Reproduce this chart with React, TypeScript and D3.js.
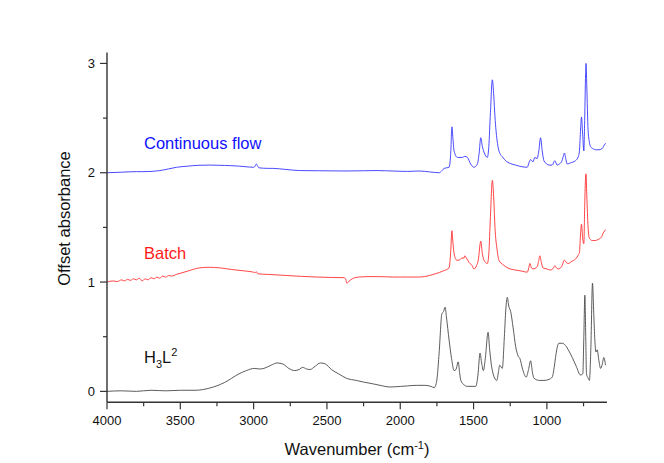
import React from "react";
import * as d3 from "d3";

// wavenumber grid points (cm-1) and absorbance readings for each spectrum
const h3l2Wn = [4000,3900,3800,3700,3600,3500,3400,3300,3200,3100,3050,2995,2960,2930,2880,2840,2800,2760,2720,2690,2665,2640,2615,2580,2545,2510,2470,2420,2367,2300,2250,2190,2120,2075,2000,1950,1891,1830,1790,1769,1755,1748,1735,1716,1705,1694,1685,1667,1650,1633,1620,1605,1595,1587,1565,1544,1485,1470,1456,1445,1433,1420,1401,1390,1372,1342,1330,1322,1304,1290,1280,1270,1260,1247,1230,1213,1195,1184,1165,1141,1125,1111,1098,1088,1050,1020,985,964,950,941,930,918,895,873,850,827,800,771,755,748,741,735,730,718,710,700,689,680,673,665,657,645,634,622,612,600];
const h3l2Abs = [0,0.005,0,0.01,0.005,0.01,0.01,0.03,0.08,0.16,0.19,0.21,0.205,0.21,0.24,0.26,0.25,0.21,0.19,0.2,0.22,0.205,0.2,0.23,0.26,0.25,0.2,0.16,0.12,0.1,0.085,0.07,0.05,0.04,0.045,0.05,0.055,0.055,0.045,0.034,0.07,0.13,0.35,0.71,0.73,0.77,0.68,0.47,0.3,0.19,0.2,0.27,0.17,0.1,0.06,0.046,0.046,0.15,0.35,0.26,0.19,0.3,0.54,0.38,0.19,0.1,0.18,0.24,0.21,0.5,0.75,0.86,0.78,0.73,0.58,0.41,0.32,0.3,0.2,0.13,0.2,0.28,0.17,0.12,0.1,0.1,0.11,0.13,0.22,0.31,0.4,0.44,0.44,0.42,0.37,0.31,0.23,0.15,0.16,0.5,0.88,0.5,0.16,0.12,0.1,0.4,0.99,0.7,0.47,0.36,0.38,0.28,0.21,0.25,0.31,0.24];

const batchWn = [4000,3960,3930,3900,3880,3860,3840,3820,3800,3780,3760,3740,3720,3700,3680,3660,3640,3620,3600,3580,3560,3526,3450,3367,3300,3231,3150,3050,3000,2990,2982,2970,2900,2777,2673,2573,2470,2381,2370,2365,2355,2342,2310,2279,2200,2165,2100,2054,1950,1871,1800,1757,1710,1667,1655,1648,1640,1633,1615,1599,1580,1565,1560,1549,1531,1510,1497,1480,1468,1451,1440,1429,1406,1396,1385,1372,1362,1354,1340,1327,1300,1281,1250,1213,1170,1134,1125,1116,1105,1095,1066,1058,1048,1038,1027,1000,975,955,946,935,923,900,880,868,855,830,805,785,778,770,764,756,748,742,736,733,728,719,710,690,669,650,628,615,600];
const batchAbs = [0,0.01,0.005,0.02,0.01,0.025,0.015,0.03,0.02,0.035,0.01,0.03,0.02,0.04,0.03,0.045,0.035,0.055,0.045,0.06,0.055,0.07,0.1,0.13,0.135,0.13,0.115,0.1,0.09,0.085,0.095,0.075,0.07,0.06,0.052,0.046,0.042,0.04,0.02,-0.01,0,0.016,0.04,0.046,0.05,0.05,0.048,0.046,0.046,0.046,0.06,0.077,0.1,0.13,0.3,0.47,0.35,0.26,0.2,0.2,0.22,0.22,0.24,0.22,0.18,0.15,0.12,0.15,0.2,0.375,0.26,0.2,0.17,0.26,0.6,0.93,0.75,0.5,0.3,0.2,0.16,0.14,0.12,0.11,0.1,0.09,0.12,0.17,0.13,0.12,0.14,0.18,0.24,0.18,0.13,0.12,0.11,0.13,0.15,0.13,0.12,0.14,0.2,0.18,0.17,0.19,0.21,0.25,0.27,0.45,0.53,0.4,0.35,0.7,0.96,0.99,0.8,0.5,0.4,0.38,0.38,0.39,0.41,0.45,0.48];

const flowWn = [4000,3900,3800,3755,3700,3639,3580,3526,3450,3380,3299,3200,3095,3030,3000,2990,2982,2972,2964,2900,2869,2780,2687,2550,2370,2250,2165,2100,2054,1950,1871,1800,1735,1715,1701,1667,1655,1648,1640,1633,1610,1576,1560,1542,1520,1497,1474,1462,1451,1440,1429,1406,1396,1385,1372,1362,1354,1340,1327,1300,1281,1250,1213,1170,1134,1120,1111,1095,1082,1066,1055,1043,1032,1020,1000,986,964,946,930,915,900,888,880,870,862,840,805,785,778,770,764,756,748,742,736,733,728,719,710,703,685,669,645,624,610,600];
const flowAbs = [0,0.005,0.01,0.01,0.012,0.02,0.035,0.05,0.06,0.068,0.07,0.067,0.06,0.052,0.05,0.06,0.08,0.06,0.045,0.04,0.04,0.03,0.02,0.018,0.016,0.018,0.02,0.018,0.016,0.012,0.016,0.008,0,0.02,0.04,0.05,0.2,0.42,0.3,0.2,0.14,0.14,0.15,0.14,0.08,0.05,0.08,0.18,0.32,0.24,0.19,0.14,0.24,0.55,0.85,0.7,0.51,0.3,0.2,0.14,0.11,0.085,0.07,0.055,0.05,0.1,0.12,0.1,0.14,0.13,0.2,0.32,0.2,0.11,0.08,0.07,0.07,0.11,0.07,0.08,0.1,0.15,0.18,0.12,0.08,0.09,0.11,0.15,0.2,0.4,0.51,0.35,0.2,0.5,0.9,1.0,0.8,0.39,0.28,0.24,0.22,0.21,0.21,0.22,0.25,0.27];

const seriesNames = ["H3L2", "Batch", "Continuous flow"];
const seriesOffsets = [0, 1, 2];

const xMajorTicks = [4000, 3500, 3000, 2500, 2000, 1500, 1000];
const xMinorTicks = [3750, 3250, 2750, 2250, 1750, 1250, 750];
const yMajorTicks = [0, 1, 2, 3];
const yMinorTicks = [0.5, 1.5, 2.5];

const FONT = "'Liberation Sans', Arial, Helvetica, sans-serif";

export default function App() {
  const W = 664, H = 463;
  const x = d3.scaleLinear().domain([4000, 590]).range([107, 607]);
  const y = d3.scaleLinear().domain([-0.1, 3.1]).range([402.3, 52.5]);

  const mk = (wn: number[], ab: number[], off: number) =>
    wn.map((w, i) => [w, ab[i] + off] as [number, number]);

  const line = d3
    .line<[number, number]>()
    .x((d) => x(d[0]))
    .y((d) => y(d[1]))
    .curve(d3.curveMonotoneX);

  const series = [
    { pts: mk(h3l2Wn, h3l2Abs, seriesOffsets[0]), color: "#4a4a4a" },
    { pts: mk(batchWn, batchAbs, seriesOffsets[1]), color: "#ff3030" },
    { pts: mk(flowWn, flowAbs, seriesOffsets[2]), color: "#3535ff" },
  ];

  const axisColor = "#333";
  const x0 = x.range()[0];
  const yBottom = y.range()[0];

  return (
    <svg
      width={W}
      height={H}
      style={{ position: "absolute", left: 0, top: 0, background: "#fff" }}
      fontFamily={FONT}
    >
      <rect x={0} y={0} width={W} height={H} fill="#fff" />
      {series.map((s, i) => (
        <path key={i} d={line(s.pts) || ""} fill="none" stroke={s.color} strokeWidth={0.9} />
      ))}

      {/* axes */}
      <line x1={x0} x2={x0} y1={y.range()[1]} y2={yBottom} stroke={axisColor} strokeWidth={1.4} />
      <line x1={x0} x2={x.range()[1]} y1={yBottom} y2={yBottom} stroke={axisColor} strokeWidth={1.4} />

      {xMajorTicks.map((t) => (
        <g key={"xm" + t}>
          <line x1={x(t)} x2={x(t)} y1={yBottom} y2={yBottom + 7} stroke={axisColor} strokeWidth={1.2} />
          <text x={x(t)} y={424.5} textAnchor="middle" fontSize={13} fill="#111">
            {t}
          </text>
        </g>
      ))}
      {xMinorTicks.map((t) => (
        <line key={"xn" + t} x1={x(t)} x2={x(t)} y1={yBottom} y2={yBottom + 4} stroke={axisColor} strokeWidth={1.2} />
      ))}
      {yMajorTicks.map((t) => (
        <g key={"ym" + t}>
          <line x1={x0 - 7} x2={x0} y1={y(t)} y2={y(t)} stroke={axisColor} strokeWidth={1.2} />
          <text x={x0 - 12} y={y(t) + 4.7} textAnchor="end" fontSize={13} fill="#111">
            {t}
          </text>
        </g>
      ))}
      {yMinorTicks.map((t) => (
        <line key={"yn" + t} x1={x0 - 4} x2={x0} y1={y(t)} y2={y(t)} stroke={axisColor} strokeWidth={1.2} />
      ))}

      {/* axis titles */}
      <text x={357} y={455} textAnchor="middle" fontSize={16.5} fill="#111">
        Wavenumber (cm
        <tspan dy={-6} fontSize={11}>-1</tspan>
        <tspan dy={6}>)</tspan>
      </text>
      <text
        transform={`translate(69.5, 218.5) rotate(-90)`}
        textAnchor="middle"
        fontSize={16.5}
        fill="#111"
      >
        Offset absorbance
      </text>

      {/* series labels */}
      <text x={144} y={149} fontSize={16.5} fill="#1010ff">{seriesNames[2]}</text>
      <text x={144} y={258.5} fontSize={16.5} fill="#ff1a1a">{seriesNames[1]}</text>
      <text x={144} y={362.5} fontSize={16.5} fill="#111">
        H<tspan dy={5} fontSize={11}>3</tspan>
        <tspan dy={-5}>L</tspan>
        <tspan dy={-7} fontSize={11}>2</tspan>
      </text>
    </svg>
  );
}
